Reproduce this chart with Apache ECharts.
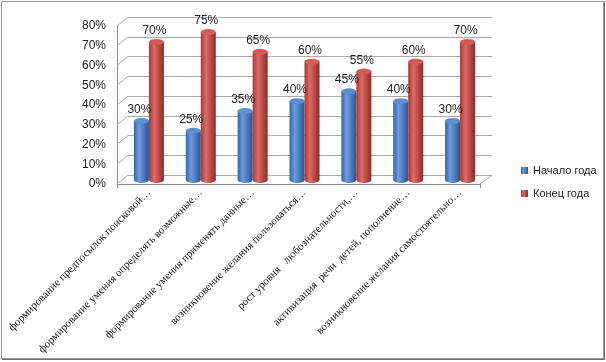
<!DOCTYPE html>
<html>
<head>
<meta charset="utf-8">
<script src="https://cdn.jsdelivr.net/npm/echarts@6/dist/echarts.min.js"></script>
<style>
  html, body { margin: 0; padding: 0; background: #fff; }
  #chart { position: absolute; left: 1px; top: 1px; width: 601px; height: 356px;
           border: 1px solid #9a9a9a; box-shadow: 1px 1px 0 #6f6f6f; }
</style>
</head>
<body>
<div id="chart"></div>
<script>
var categories = [
  'формирование предпосылок поисковой…',
  'формирование умения определять возможные…',
  'формирование умения применять данные…',
  'возникновение желания пользоваться…',
  'рост уровня   любознательности,…',
  'активизация  речи  детей, пополнение…',
  'возникновение желания самостоятельно…'
];
var startValues = [30, 25, 35, 40, 45, 40, 30];
var endValues = [70, 75, 65, 60, 55, 60, 70];
var yTicks = [0, 10, 20, 30, 40, 50, 60, 70, 80];
var seriesNames = ['Начало года', 'Конец года'];

// 3d look: front plane, back wall, and a middle plane for the cylinders
var front = { left: 115, top: 24, width: 363, height: 158 };
var back = { left: 126, top: 15, width: 364, height: 158 };
var mid = { left: 121, top: 20, width: 363, height: 158 };

var myChart = echarts.init(document.getElementById('chart'));

function grad(c1, c2, c3) {
  return new echarts.graphic.LinearGradient(0, 0, 1, 0, [
    { offset: 0, color: c1 }, { offset: 0.35, color: c2 }, { offset: 1, color: c3 }
  ]);
}
var blueBody = grad('#3766a6', '#6b9ce0', '#2b5290');
var redBody = grad('#a63936', '#e06a66', '#8c2b29');
var barW = 15;

function yAxisBase(i, extra) {
  return Object.assign({
    type: 'value', gridIndex: i, min: yTicks[0], max: yTicks[yTicks.length - 1],
    interval: yTicks[1] - yTicks[0],
    axisLabel: { show: false }, axisLine: { show: false }, axisTick: { show: false },
    splitLine: { show: false }
  }, extra || {});
}

var option = {
  animation: false,
  grid: [front, back, mid].map(function (g) {
    return { left: g.left, top: g.top, width: g.width, height: g.height };
  }),
  legend: {
    data: seriesNames,
    orient: 'vertical',
    left: 519, top: 163, padding: 0,
    itemWidth: 7, itemHeight: 7, itemGap: 12,
    icon: 'rect',
    textStyle: { fontFamily: 'Liberation Sans', fontSize: 11, color: '#222' }
  },
  xAxis: [
    {
      type: 'category', gridIndex: 0, data: categories,
      axisLine: { show: true, lineStyle: { color: '#8c8c8c' } },
      axisTick: { show: true, length: 4, lineStyle: { color: '#8c8c8c' } },
      axisLabel: { show: false }
    },
    {
      type: 'category', gridIndex: 1, data: categories,
      axisLine: { show: false }, axisTick: { show: false }, axisLabel: { show: false }
    },
    {
      type: 'category', gridIndex: 2, data: categories,
      axisLine: { show: false }, axisTick: { show: false },
      axisLabel: {
        show: true, interval: 0, rotate: 45, margin: 11,
        fontFamily: 'Liberation Serif', fontSize: 11, color: '#111'
      }
    }
  ],
  yAxis: [
    yAxisBase(0, {
      axisLine: { show: true, lineStyle: { color: '#8c8c8c' } },
      axisLabel: {
        show: true, margin: 11, fontFamily: 'Liberation Sans', fontSize: 12, color: '#222',
        formatter: function (v) { return v + '%'; }
      }
    }),
    yAxisBase(1, { splitLine: { show: true, lineStyle: { color: '#a8a8a8' } } }),
    yAxisBase(2)
  ],
  series: [
    {
      name: seriesNames[0], type: 'bar', xAxisIndex: 2, yAxisIndex: 2,
      data: startValues, barWidth: barW, barGap: 0, z: 3,
      itemStyle: { color: blueBody },
      label: {
        show: true, position: 'top', distance: 5, offset: [-2, 0],
        formatter: '{c}%', fontFamily: 'Liberation Sans', fontSize: 12, color: '#222'
      }
    },
    {
      name: seriesNames[1], type: 'bar', xAxisIndex: 2, yAxisIndex: 2,
      data: endValues, barWidth: barW, barGap: 0, z: 3,
      itemStyle: { color: redBody },
      label: {
        show: true, position: 'top', distance: 5, offset: [-2, 0],
        formatter: '{c}%', fontFamily: 'Liberation Sans', fontSize: 12, color: '#222'
      }
    },
    // bottom caps
    {
      name: 'b1', type: 'pictorialBar', xAxisIndex: 2, yAxisIndex: 2, data: startValues,
      symbol: 'circle', symbolSize: [barW, 6], symbolOffset: ['-50%', '50%'],
      symbolPosition: 'start', barGap: '-100%', z: 2, itemStyle: { color: blueBody }
    },
    {
      name: 'b2', type: 'pictorialBar', xAxisIndex: 2, yAxisIndex: 2, data: endValues,
      symbol: 'circle', symbolSize: [barW, 6], symbolOffset: ['50%', '50%'],
      symbolPosition: 'start', barGap: '-100%', z: 2, itemStyle: { color: redBody }
    },
    // top caps
    {
      name: 't1', type: 'pictorialBar', xAxisIndex: 2, yAxisIndex: 2, data: startValues,
      symbol: 'circle', symbolSize: [barW, 6], symbolOffset: ['-50%', '-50%'],
      symbolPosition: 'end', barGap: '-100%', z: 4,
      itemStyle: { color: '#5b8ed2', borderColor: '#3d6cab', borderWidth: 0.6 }
    },
    {
      name: 't2', type: 'pictorialBar', xAxisIndex: 2, yAxisIndex: 2, data: endValues,
      symbol: 'circle', symbolSize: [barW, 6], symbolOffset: ['50%', '-50%'],
      symbolPosition: 'end', barGap: '-100%', z: 4,
      itemStyle: { color: '#d45b57', borderColor: '#a93c39', borderWidth: 0.6 }
    }
  ],
  color: ['#4a7ebf', '#c0504d']
};
myChart.setOption(option);

// side wall and floor edges joining front plane to back wall
var lines = [];
var lineStyle = { stroke: '#a8a8a8', lineWidth: 1 };
yTicks.forEach(function (v) {
  var yf = myChart.convertToPixel({ yAxisIndex: 0 }, v);
  var yb = myChart.convertToPixel({ yAxisIndex: 1 }, v);
  lines.push({ type: 'line', silent: true, z: 1,
    shape: { x1: front.left, y1: yf, x2: back.left, y2: yb }, style: lineStyle });
});
var yf0 = myChart.convertToPixel({ yAxisIndex: 0 }, yTicks[0]);
var yb0 = myChart.convertToPixel({ yAxisIndex: 1 }, yTicks[0]);
lines.push({ type: 'line', silent: true, z: 1,
  shape: { x1: front.left + front.width, y1: yf0, x2: back.left + back.width, y2: yb0 },
  style: lineStyle });
myChart.setOption({ graphic: lines });

window.addEventListener('resize', function () {
  myChart.resize();
});
</script>
</body>
</html>
